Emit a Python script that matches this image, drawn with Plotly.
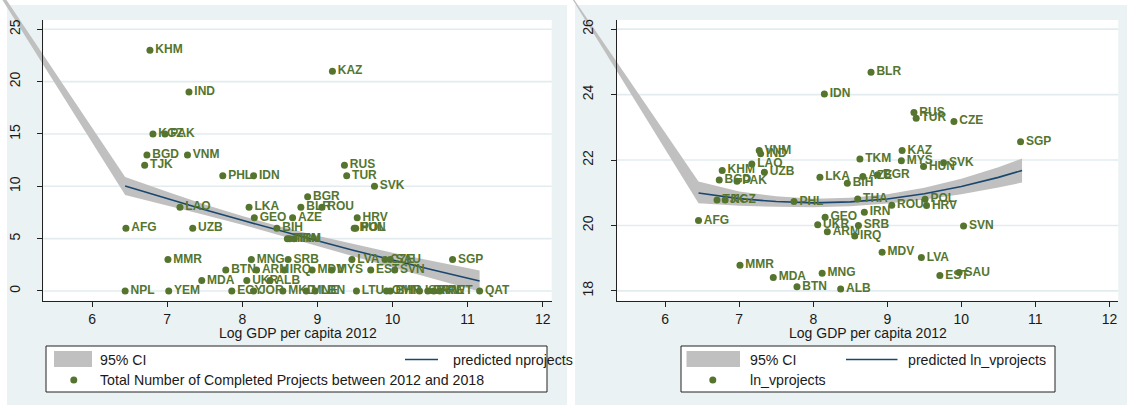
import plotly.graph_objects as go

W, H = 1127, 409

# ---------------------------------------------------------------- data
countries = ["KHM", "IND", "KGZ", "PAK", "BGD", "VNM", "TJK", "PHL", "IDN", "BGR",
             "LAO", "LKA", "BLR", "ROU", "GEO", "AZE", "HRV", "AFG", "UZB", "BIH",
             "HUN", "POL", "THA", "TKM", "IRN", "MMR", "MNG", "SRB", "LVA", "CZE",
             "SAU", "SGP", "BTN", "ARM", "IRQ", "MDV", "MYS", "EST", "SVN", "MDA",
             "UKR", "ALB", "RUS", "TUR", "SVK", "KAZ",
             "NPL", "YEM", "EGY", "JOR", "MKD", "MNE", "LBN", "LTU", "OMN", "BHR",
             "ISR", "BRN", "ARE", "KWT", "QAT"]

log_gdp = [6.77, 7.29, 6.81, 6.97, 6.73, 7.27, 6.70, 7.74, 8.15, 8.87,
           7.17, 8.09, 8.78, 9.06, 8.16, 8.67, 9.53, 6.45, 7.34, 8.46,
           9.49, 9.51, 8.60, 8.63, 8.69, 7.01, 8.12, 8.61, 9.46, 9.90,
           9.97, 10.80, 7.78, 8.19, 8.56, 8.93, 9.19, 9.71, 10.03, 7.46,
           8.06, 8.37, 9.36, 9.39, 9.76, 9.20,
           6.44, 7.02, 7.86, 8.15, 8.54, 8.85, 8.97, 9.52, 9.92, 9.97,
           10.36, 10.47, 10.55, 10.63, 11.16]

nprojects = [23, 19, 15, 15, 13, 13, 12, 11, 11, 9,
             8, 8, 8, 8, 7, 7, 7, 6, 6, 6,
             6, 6, 5, 5, 5, 3, 3, 3, 3, 3,
             3, 3, 2, 2, 2, 2, 2, 2, 2, 1,
             1, 1, 12, 11, 10, 21,
             0, 0, 0, 0, 0, 0, 0, 0, 0, 0,
             0, 0, 0, 0, 0]

ln_vprojects = [21.68, 22.19, 20.78, 21.35, 21.39, 22.29, 20.78, 20.73, 24.02, 21.55,
                21.88, 21.47, 24.68, 20.62, 20.25, 21.50, 20.61, 20.15, 21.63, 21.29,
                21.80, 20.80, 20.81, 22.03, 20.40, 18.78, 18.54, 20.00, 19.02, 23.18,
                18.56, 22.56, 18.13, 19.81, 19.68, 19.18, 21.98, 18.47, 19.98, 18.41,
                20.02, 18.06, 23.45, 23.28, 21.92, 22.29,
                None, None, None, None, None, None, None, None, None, None,
                None, None, None, None, None]

# fitted values and confidence band, number of projects
fit_x_n = [6.44, 7.0, 7.5, 8.0, 8.5, 9.0, 9.5, 10.0, 10.5, 11.16]
fit_n = [10.03, 8.82, 7.77, 6.75, 5.75, 4.79, 3.85, 2.95, 2.07, 0.96]
ci_x_n = [4.0, 6.44, 7.0, 7.5, 8.0, 8.5, 9.0, 9.5, 10.0, 10.5, 11.16]
ci_lo_n = [37.0, 9.16, 8.17, 7.27, 6.33, 5.33, 4.31, 3.27, 2.25, 1.24, -0.04]
ci_hi_n = [37.0, 10.90, 9.47, 8.27, 7.17, 6.17, 5.27, 4.43, 3.65, 2.90, 1.96]

# fitted values and confidence band, log value of projects
fit_x_v = [6.45, 7.0, 7.5, 8.0, 8.5, 9.0, 9.5, 10.0, 10.5, 10.82]
fit_v = [20.99, 20.82, 20.73, 20.69, 20.72, 20.81, 20.97, 21.19, 21.47, 21.68]
ci_x_v = [4.56, 6.45, 7.0, 7.5, 8.0, 8.5, 9.0, 9.5, 10.0, 10.5, 10.82]
ci_lo_v = [27.6, 20.68, 20.60, 20.57, 20.56, 20.59, 20.67, 20.79, 20.95, 21.16, 21.31]
ci_hi_v = [27.6, 21.34, 21.04, 20.89, 20.82, 20.85, 20.95, 21.15, 21.43, 21.78, 22.05]

x_ticks = [6, 7, 8, 9, 10, 11, 12]
y_ticks_n = [0, 5, 10, 15, 20, 25]
y_ticks_v = [18, 20, 22, 24, 26]

x_title = "Log GDP per capita 2012"

# ---------------------------------------------------------------- style
BG = "rgb(234,242,243)"
GRID = "rgb(226,236,238)"
GREEN = "#55752F"
NAVY = "#1A476F"
BAND = "#C0C0C0"
FONT = "Liberation Sans, Arial, sans-serif"


def px(x):
    return x / W


def py(y):
    return 1 - y / H


# plot regions in pixels (left, top, right, bottom)
regions = {
    "n": (43.3, 20.0, 551.7, 300.7),
    "v": (616.7, 20.0, 1118.3, 300.7),
}
x_range = {"n": [5.35, 12.12], "v": [5.345, 12.12]}
y_range = {"n": [-0.93, 25.89], "v": [17.70, 26.28]}
overflow_dom = {"n": [0.0, 570 / W], "v": [570 / W, 1.0]}


def extend(dom, rng, new_dom):
    k = (rng[1] - rng[0]) / (dom[1] - dom[0])
    return [rng[0] + (new_dom[0] - dom[0]) * k, rng[0] + (new_dom[1] - dom[0]) * k]


fig = go.Figure()
layout_axes = {}
shapes = []
annotations = []

# panel backgrounds
shapes.append(dict(type="rect", xref="paper", yref="paper", x0=px(7), x1=px(567),
                   y0=py(405), y1=py(5), fillcolor=BG, line_width=0, layer="below"))
shapes.append(dict(type="rect", xref="paper", yref="paper", x0=px(575), x1=px(1127),
                   y0=py(405), y1=py(5), fillcolor=BG, line_width=0, layer="below"))

panels = [
    ("n", 1, 2, y_ticks_n, fit_x_n, fit_n, ci_x_n, ci_lo_n, ci_hi_n),
    ("v", 3, 4, y_ticks_v, fit_x_v, fit_v, ci_x_v, ci_lo_v, ci_hi_v),
]

for key, ia, ib, yt, fx, fy, cx, clo, chi in panels:
    l, t, r, b = regions[key]
    xdom = [px(l), px(r)]
    ydom = [py(b), py(t)]
    sa = "" if ia == 1 else str(ia)
    sb = str(ib)

    # white plot region and horizontal grid
    shapes.append(dict(type="rect", xref="paper", yref="paper", x0=xdom[0], x1=xdom[1],
                       y0=ydom[0], y1=ydom[1], fillcolor="white", line_width=0,
                       layer="below"))
    for v in yt:
        shapes.append(dict(type="line", xref="paper", yref="y" + sb, x0=xdom[0],
                           x1=xdom[1], y0=v, y1=v, line=dict(color=GRID, width=1.6),
                           layer="below"))

    # wide, hidden axes so the confidence band may run past the plot region
    layout_axes["xaxis" + sa] = dict(domain=overflow_dom[key],
                                     range=extend(xdom, x_range[key], overflow_dom[key]),
                                     visible=False, anchor="y" + sa)
    layout_axes["yaxis" + sa] = dict(domain=[0, 1],
                                     range=extend(ydom, y_range[key], [0, 1]),
                                     visible=False, anchor="x" + sa)

    fig.add_trace(go.Scatter(
        x=cx + cx[::-1], y=chi + clo[::-1], fill="toself", fillcolor=BAND,
        mode="lines", line=dict(width=0, color=BAND), hoverinfo="skip",
        xaxis="x" + sa, yaxis="y" + sa))

    # visible axes
    axis_common = dict(showline=True, linecolor="#222222", linewidth=1, ticks="outside",
                       ticklen=5, tickwidth=1, tickcolor="#222222", showgrid=False,
                       zeroline=False, tickfont=dict(family=FONT, size=14, color="#1a1a1a"))
    layout_axes["xaxis" + sb] = dict(domain=xdom, range=x_range[key], anchor="y" + sb,
                                     tickvals=x_ticks, ticktext=[str(v) for v in x_ticks],
                                     ticklabelstandoff=0, **axis_common)
    layout_axes["yaxis" + sb] = dict(domain=ydom, range=y_range[key], anchor="x" + sb,
                                     tickvals=yt, ticktext=[str(v) for v in yt],
                                     tickangle=-90, ticklabelstandoff=12, **axis_common)

    fig.add_trace(go.Scatter(x=fx, y=fy, mode="lines", line=dict(color=NAVY, width=1.6),
                             hoverinfo="skip", xaxis="x" + sb, yaxis="y" + sb))

    yvals = nprojects if key == "n" else ln_vprojects
    pts = [(c, x, y) for c, x, y in zip(countries, log_gdp, yvals) if y is not None]
    fig.add_trace(go.Scatter(
        x=[p[1] for p in pts], y=[p[2] for p in pts], text=[p[0] for p in pts],
        mode="markers+text", textposition="middle right",
        marker=dict(color=GREEN, size=7, line_width=0),
        textfont=dict(family=FONT, size=12, color=GREEN, weight="bold"),
        xaxis="x" + sb, yaxis="y" + sb))

    annotations.append(dict(text=x_title, xref="paper", yref="paper",
                            x=(xdom[0] + xdom[1]) / 2, y=py(333), xanchor="center",
                            yanchor="middle", showarrow=False,
                            font=dict(family=FONT, size=14, color="#1a1a1a")))

# legends
legends = [
    dict(box=(46, 346, 547, 392), swatch=(54, 351, 92, 367), text_x=98,
         line=(405, 438), line_label_x=451, dot_x=73.8,
         labels=("95% CI", "predicted nprojects",
                 "Total Number of Completed Projects between 2012 and 2018")),
    dict(box=(681, 346, 1055, 392), swatch=(686.5, 351, 740, 367), text_x=747.6,
         line=(846, 897.5), line_label_x=905.7, dot_x=712.8,
         labels=("95% CI", "predicted ln_vprojects", "ln_vprojects")),
]
for lg in legends:
    x0, y0, x1, y1 = lg["box"]
    shapes.append(dict(type="rect", xref="paper", yref="paper", x0=px(x0), x1=px(x1),
                       y0=py(y1), y1=py(y0), fillcolor="white",
                       line=dict(color="#222222", width=1), layer="below"))
    sx0, sy0, sx1, sy1 = lg["swatch"]
    shapes.append(dict(type="rect", xref="paper", yref="paper", x0=px(sx0), x1=px(sx1),
                       y0=py(sy1), y1=py(sy0), fillcolor=BAND, line_width=0,
                       layer="below"))
    shapes.append(dict(type="line", xref="paper", yref="paper", x0=px(lg["line"][0]),
                       x1=px(lg["line"][1]), y0=py(359.5), y1=py(359.5),
                       line=dict(color=NAVY, width=1.6), layer="below"))
    shapes.append(dict(type="circle", xref="paper", yref="paper",
                       x0=px(lg["dot_x"] - 3.5), x1=px(lg["dot_x"] + 3.5),
                       y0=py(383.5), y1=py(376.5), fillcolor=GREEN, line_width=0,
                       layer="below"))
    for txt, tx, ty in [(lg["labels"][0], lg["text_x"], 359.5),
                        (lg["labels"][1], lg["line_label_x"], 359.5),
                        (lg["labels"][2], lg["text_x"], 380)]:
        annotations.append(dict(text=txt, xref="paper", yref="paper", x=px(tx), y=py(ty),
                                xanchor="left", yanchor="middle", showarrow=False,
                                font=dict(family=FONT, size=14.2, color="#1a1a1a")))

fig.update_layout(
    width=W, height=H, margin=dict(l=0, r=0, t=0, b=0),
    paper_bgcolor="white", plot_bgcolor="rgba(0,0,0,0)",
    showlegend=False, shapes=shapes, annotations=annotations,
    **layout_axes,
)

fig.write_html("out.html")
